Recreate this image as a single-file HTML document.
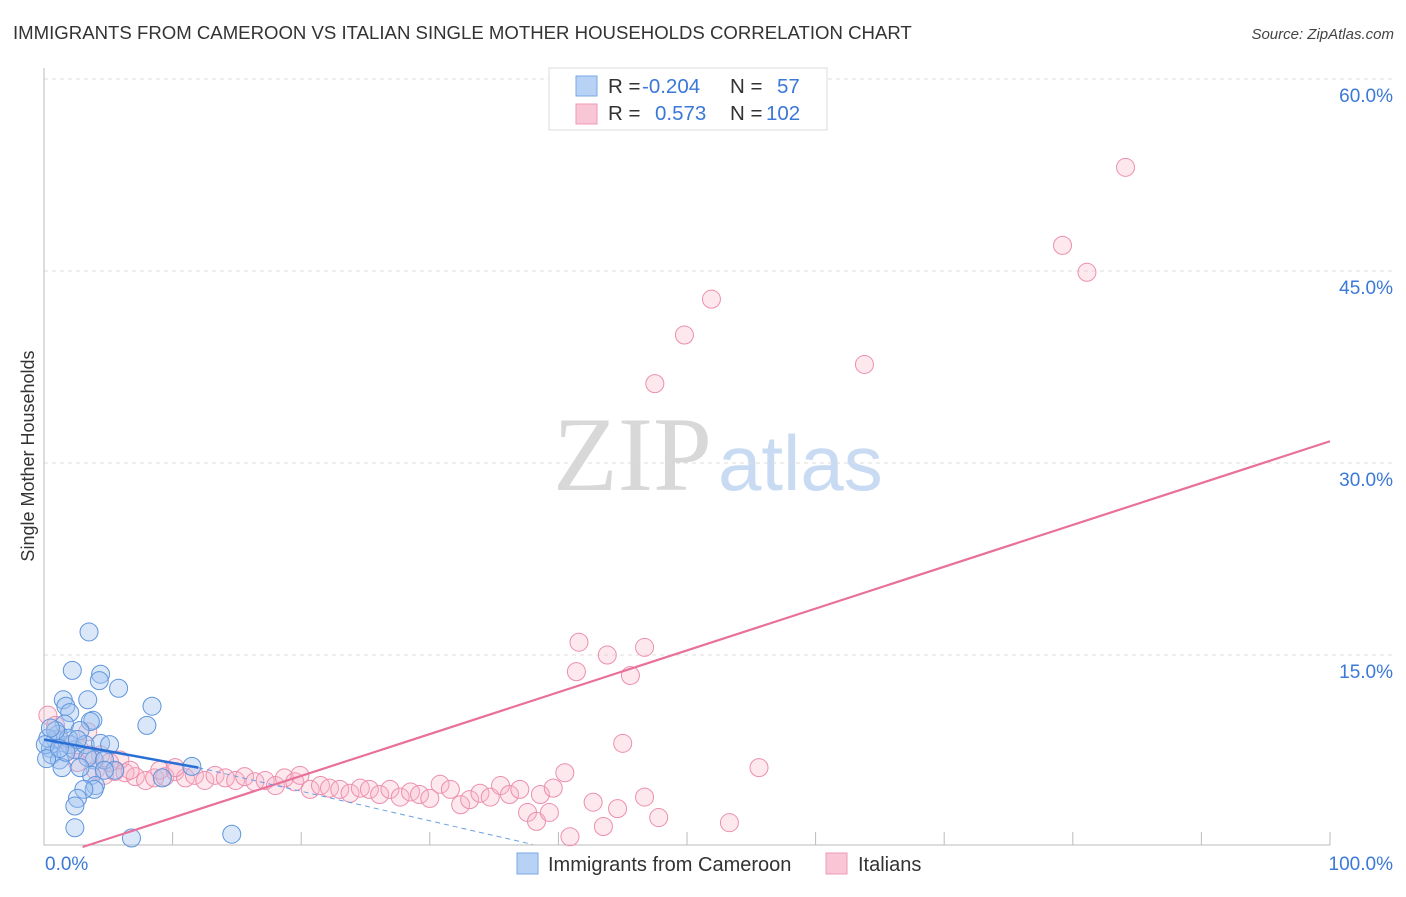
<!DOCTYPE html>
<html><head><meta charset="utf-8"><style>
body{margin:0;background:#fff;font-family:"Liberation Sans",sans-serif}
</style></head><body>
<svg width="1406" height="892" xmlns="http://www.w3.org/2000/svg" font-family="Liberation Sans, sans-serif">
<text x="13" y="39" font-size="18.6" fill="#333">IMMIGRANTS FROM CAMEROON VS ITALIAN SINGLE MOTHER HOUSEHOLDS CORRELATION CHART</text>
<text x="1394" y="39" font-size="15" fill="#444" font-style="italic" text-anchor="end">Source: ZipAtlas.com</text>
<text x="553" y="490" font-size="106" fill="#d8d8d8" font-family="Liberation Serif, serif">ZIP</text>
<text x="718" y="490" font-size="78" fill="#c9dbf2">atlas</text>
<text transform="translate(34,456) rotate(-90)" font-size="18" fill="#333" text-anchor="middle">Single Mother Households</text>
<g id="grid"></g><g id="axes"></g><g id="marks"></g>
<g>
<rect x="549" y="68" width="278" height="62" fill="#fff" stroke="#ddd"/>
<rect x="576" y="76" width="21" height="20" fill="#b7d2f5" stroke="#7aa8e6"/>
<rect x="576" y="104" width="21" height="20" fill="#f9c6d6" stroke="#ee9ab5"/>
<text x="608" y="93" font-size="20.5" fill="#333">R = <tspan fill="#3b78d8" x="642">-0.204</tspan></text>
<text x="730" y="93" font-size="20.5" fill="#333">N = <tspan fill="#3b78d8" x="777">57</tspan></text>
<text x="608" y="120" font-size="20.5" fill="#333">R = <tspan fill="#3b78d8" x="655">0.573</tspan></text>
<text x="730" y="120" font-size="20.5" fill="#333">N = <tspan fill="#3b78d8" x="766">102</tspan></text>
</g>
<g>
<rect x="517" y="853" width="21" height="21" fill="#b7d2f5" stroke="#7aa8e6"/>
<text x="548" y="871" font-size="20" fill="#333">Immigrants from Cameroon</text>
<rect x="826" y="853" width="21" height="21" fill="#f9c6d6" stroke="#ee9ab5"/>
<text x="858" y="871" font-size="20" fill="#333">Italians</text>
</g>
</svg>
<script>
const yTicks=[15,30,45,60];
const yTickLabels=["15.0%","30.0%","45.0%","60.0%"];
const xTicks=[0,10,20,30,40,50,60,70,80,90,100];
const blueX=[3.5,2.2,4.4,4.3,5.8,1.5,3.4,1.7,8.4,2.0,8.0,3.8,1.6,3.6,2.8,0.9,0.5,0.6,1.2,2.0,2.4,3.2,4.4,5.1,3.9,1.4,3.7,4.0,3.9,3.1,2.6,2.4,2.4,6.8,14.6,11.5,9.2,1.1,0.3,0.1,1.9,2.6,3.4,4.7,5.5,1.7,0.9,0.5,2.8,0.2,1.2,4.7];
const blueY=[16.8,13.8,13.5,13.0,12.4,11.5,11.5,11.0,11.0,10.5,9.5,9.9,9.6,9.8,9.1,8.4,7.7,7.2,6.8,8.0,7.6,8.0,8.1,8.0,6.8,6.2,5.6,4.8,4.5,4.5,3.8,3.2,1.5,0.7,1.0,6.3,5.4,8.8,8.5,8.0,8.5,8.4,7.0,6.8,6.0,7.4,9.1,9.3,6.2,6.9,7.7,6.0];
const pinkX=[84.1,79.2,81.1,51.9,49.8,47.5,63.8,41.6,43.8,46.7,41.4,45.6,45.0,55.6,40.5,37.6,38.3,39.3,40.9,42.7,43.5,44.6,46.7,47.8,53.3,0.3,0.9,1.2,2.0,2.8,3.6,2.6,4.0,4.7,5.5,6.3,7.1,7.9,8.6,9.4,10.2,11.0,11.7,12.5,13.3,14.1,14.9,15.6,16.4,17.2,18.0,18.7,19.5,19.9,20.7,21.5,22.2,23.0,23.8,24.6,25.3,26.1,26.9,27.7,28.5,29.2,30.0,30.8,31.6,32.4,33.1,33.9,34.7,35.5,36.2,37.0,5.9,4.4,5.1,3.4,6.7,9.0,10.2,38.6,39.6];
const pinkY=[53.1,47.0,44.9,42.8,40.0,36.2,37.7,16.0,15.0,15.6,13.7,13.4,8.1,6.2,5.8,2.7,2.0,2.7,0.8,3.5,1.6,3.0,3.9,2.3,1.9,10.3,9.5,8.4,8.0,7.6,7.2,6.6,6.0,5.6,5.9,5.8,5.5,5.2,5.4,5.5,5.9,5.4,5.6,5.2,5.6,5.4,5.2,5.5,5.1,5.2,4.8,5.4,5.1,5.6,4.5,4.8,4.6,4.5,4.2,4.6,4.5,4.1,4.5,3.9,4.3,4.1,3.8,4.9,4.5,3.3,3.7,4.2,3.9,4.8,4.1,4.5,6.8,7.2,6.6,9.0,6.0,6.0,6.2,4.1,4.6];
const blueTrend=[[0,8.4],[12,6.2]];
const blueTrendDash=[[12,6.2],[38,0.2]];
const pinkTrend=[[3,0],[100,31.7]];
const X=v=>44+v*12.86, Y=v=>847-v*12.8;
const NS="http://www.w3.org/2000/svg";
function mk(p,t,a){const e=document.createElementNS(NS,t);for(const k in a)e.setAttribute(k,a[k]);p.appendChild(e);return e;}
const grid=document.getElementById('grid'),axes=document.getElementById('axes'),marks=document.getElementById('marks');
yTicks.forEach((t,i)=>{const l=mk(grid,'line',{x1:44,x2:1394,y1:Y(t),y2:Y(t),stroke:'#ddd','stroke-dasharray':'4,4'});


const tx=mk(grid,'text',{x:1393,y:Y(t)+23,'font-size':19,fill:'#3b78d8','text-anchor':'end'});tx.textContent=yTickLabels[i];

});
const al=mk(axes,'path',{d:'M44 68V845H1330',stroke:'#bbb',fill:'none'});


xTicks.forEach(t=>{const l=mk(axes,'line',{x1:X(t),x2:X(t),y1:845,y2:832,stroke:'#bbb'});

});
const x0=mk(axes,'text',{x:45,y:870,'font-size':19,fill:'#3b78d8'});x0.textContent='0.0%';


const x1=mk(axes,'text',{x:1393,y:870,'font-size':19,fill:'#3b78d8','text-anchor':'end'});x1.textContent='100.0%';


pinkX.forEach((v,i)=>{const c=mk(marks,'circle',{cx:X(v),cy:Y(pinkY[i]),r:9,fill:'rgba(248,180,200,0.3)',stroke:'#ec8fae','stroke-width':1});

});
blueX.forEach((v,i)=>{const c=mk(marks,'circle',{cx:X(v),cy:Y(blueY[i]),r:9,fill:'rgba(160,196,240,0.4)',stroke:'#5f95dd','stroke-width':1});

});
const pl=mk(marks,'line',{x1:X(pinkTrend[0][0]),y1:Y(pinkTrend[0][1]),x2:X(pinkTrend[1][0]),y2:Y(pinkTrend[1][1]),stroke:'#e8709a','stroke-width':2.2});


const bl=mk(marks,'line',{x1:X(blueTrend[0][0]),y1:Y(blueTrend[0][1]),x2:X(blueTrend[1][0]),y2:Y(blueTrend[1][1]),stroke:'#2a6fd6','stroke-width':2.5});


const bd=mk(marks,'line',{x1:X(blueTrendDash[0][0]),y1:Y(blueTrendDash[0][1]),x2:X(blueTrendDash[1][0]),y2:Y(blueTrendDash[1][1]),stroke:'#6a9fe0','stroke-width':1,'stroke-dasharray':'5,4'});


</script>
</body></html>
